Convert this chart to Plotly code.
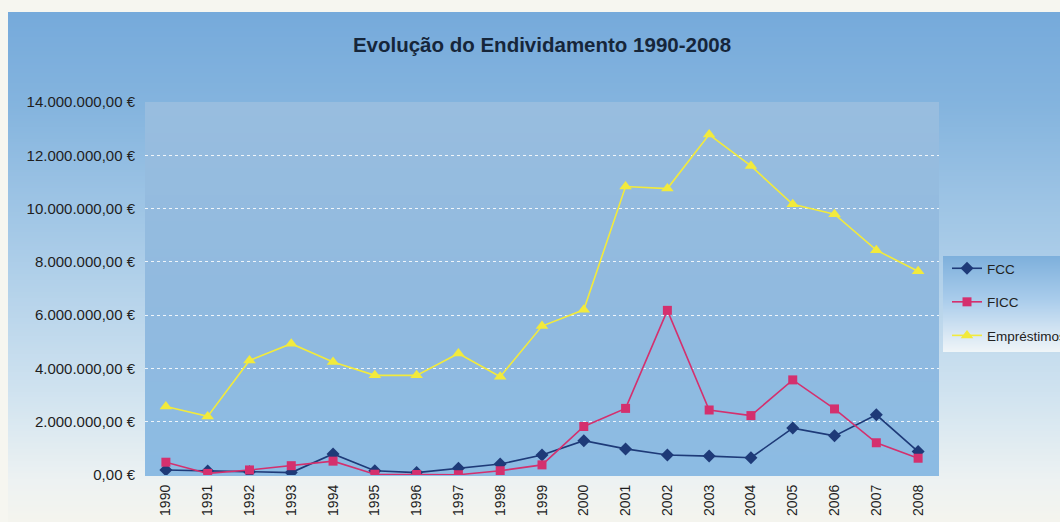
import base64
import struct
import zlib
import plotly.graph_objects as go

# ---------------- data ----------------
years = ["1990", "1991", "1992", "1993", "1994", "1995", "1996", "1997", "1998", "1999",
         "2000", "2001", "2002", "2003", "2004", "2005", "2006", "2007", "2008"]
fcc = [190000, 150000, 120000, 90000, 790000, 160000, 90000, 250000, 410000, 750000,
       1290000, 980000, 750000, 710000, 650000, 1760000, 1470000, 2260000, 880000]
ficc = [480000, 60000, 190000, 350000, 520000, 30000, 20000, 10000, 160000, 380000,
        1820000, 2500000, 6180000, 2440000, 2230000, 3570000, 2480000, 1210000, 630000]
emprestimos = [2570000, 2200000, 4300000, 4930000, 4240000, 3740000, 3740000, 4560000, 3690000, 5590000,
               6200000, 10830000, 10750000, 12780000, 11600000, 10160000, 9790000, 8440000, 7650000]
y_tickvals = [0, 2000000, 4000000, 6000000, 8000000, 10000000, 12000000, 14000000]
y_ticktext = ["0,00 €", "2.000.000,00 €", "4.000.000,00 €", "6.000.000,00 €",
              "8.000.000,00 €", "10.000.000,00 €", "12.000.000,00 €", "14.000.000,00 €"]
title_text = "Evolução do Endividamento 1990-2008"

# ---------------- layout geometry ----------------
W, H = 1060, 522
ML, MR, MT, MB = 145, 121, 102, 47
PW, PH = W - ML - MR, H - MT - MB


def gradient_png(stops, height=256, width=4):
    rows = []
    for i in range(height):
        t = i / (height - 1)
        c = stops[-1][1]
        for j in range(len(stops) - 1):
            p0, c0 = stops[j]
            p1, c1 = stops[j + 1]
            if p0 <= t <= p1:
                f = 0 if p1 == p0 else (t - p0) / (p1 - p0)
                c = tuple(int(round(c0[k] + (c1[k] - c0[k]) * f)) for k in range(3))
                break
        rows.append(b"\x00" + bytes(c) * width)
    raw = b"".join(rows)

    def chunk(tag, data):
        return (struct.pack(">I", len(data)) + tag + data +
                struct.pack(">I", zlib.crc32(tag + data) & 0xffffffff))

    png = (b"\x89PNG\r\n\x1a\n" +
           chunk(b"IHDR", struct.pack(">IIBBBBB", width, height, 8, 2, 0, 0, 0)) +
           chunk(b"IDAT", zlib.compress(raw, 9)) +
           chunk(b"IEND", b""))
    return "data:image/png;base64," + base64.b64encode(png).decode()


def hexrgb(h):
    h = h.lstrip("#")
    return tuple(int(h[i:i + 2], 16) for i in (0, 2, 4))


chart_bg = gradient_png([
    (0.00, hexrgb("#76aadb")),
    (0.18, hexrgb("#84b4de")),
    (0.47, hexrgb("#aacce8")),
    (0.76, hexrgb("#d2e4f0")),
    (0.92, hexrgb("#edf2f2")),
    (1.00, hexrgb("#f4f4ee")),
])
plot_bg = gradient_png([
    (0.00, hexrgb("#98bddf")),
    (0.50, hexrgb("#91badf")),
    (1.00, hexrgb("#8cbbe3")),
])
legend_bg = gradient_png([
    (0.00, hexrgb("#7eb0dc")),
    (0.45, hexrgb("#a9cceb")),
    (1.00, hexrgb("#f0f5f8")),
])


def px_to_paper_x(px):
    return (px - ML) / PW


def px_to_paper_y(py):
    return (H - MB - py) / PH


chart_left, chart_top = 8, 12
leg_left, leg_top, leg_bottom = 943, 256, 352
images = [
    dict(source=chart_bg, xref="paper", yref="paper",
         x=px_to_paper_x(chart_left), y=px_to_paper_y(chart_top),
         sizex=(W - chart_left) / PW, sizey=(H - chart_top) / PH,
         xanchor="left", yanchor="top", sizing="stretch", layer="below"),
    dict(source=plot_bg, xref="paper", yref="paper",
         x=0, y=1, sizex=1, sizey=1,
         xanchor="left", yanchor="top", sizing="stretch", layer="below"),
    dict(source=legend_bg, xref="paper", yref="paper",
         x=px_to_paper_x(leg_left), y=px_to_paper_y(leg_top),
         sizex=(W - leg_left) / PW, sizey=(leg_bottom - leg_top) / PH,
         xanchor="left", yanchor="top", sizing="stretch", layer="above"),
]

FONT = "Liberation Sans, Arial, sans-serif"

fig = go.Figure()
fig.add_trace(go.Scatter(
    x=years, y=fcc, name="FCC", mode="lines+markers", legendgroup="a",
    line=dict(color="#1e3a78", width=1.6),
    marker=dict(symbol="diamond", size=10, color="#1e3a78"),
))
fig.add_trace(go.Scatter(
    x=years, y=ficc, name="FICC", mode="lines+markers", legendgroup="b",
    line=dict(color="#d4306e", width=1.6),
    marker=dict(symbol="square", size=9, color="#d4306e"),
))
fig.add_trace(go.Scatter(
    x=years, y=emprestimos, name="Empréstimos", mode="lines+markers", legendgroup="c",
    line=dict(color="#f2ea3c", width=1.6),
    marker=dict(symbol="triangle-up", size=11, color="#f2ea3c"),
))

fig.update_layout(
    width=W, height=H,
    margin=dict(l=ML, r=MR, t=MT, b=MB, autoexpand=False),
    paper_bgcolor="#f6f6f0",
    plot_bgcolor="rgba(0,0,0,0)",
    images=images,
    title=dict(text="<b>" + title_text + "</b>", x=0.5, xref="paper",
               y=1 - 45 / H, yref="container", xanchor="center", yanchor="middle",
               font=dict(family=FONT, size=20.5, color="#16263a")),
    font=dict(family=FONT, size=13, color="#1e1e1e"),
    showlegend=True,
    legend=dict(x=px_to_paper_x(947), y=px_to_paper_y(253), xanchor="left", yanchor="top",
                bgcolor="rgba(0,0,0,0)", borderwidth=0, tracegroupgap=13,
                font=dict(family=FONT, size=13.5, color="#222222")),
)
fig.update_xaxes(
    type="category", range=[-0.5, 18.5], showgrid=False, zeroline=False, showline=False,
    tickangle=-90, ticks="", ticklabelstandoff=6,
    tickfont=dict(family=FONT, size=14, color="#1e1e1e"),
)
fig.update_yaxes(
    range=[0, 14000000], tickvals=y_tickvals, ticktext=y_ticktext,
    showgrid=True, gridcolor="rgba(255,255,255,0.85)", griddash="dot", gridwidth=1,
    zeroline=True, zerolinecolor="#8cbbe3", showline=False, ticks="",
    ticklabelstandoff=9,
    tickfont=dict(family=FONT, size=15, color="#1e1e1e"),
)

fig.write_html("out.html", config={"displayModeBar": False},
               post_script="document.body.style.margin='0';document.body.style.padding='0';")
